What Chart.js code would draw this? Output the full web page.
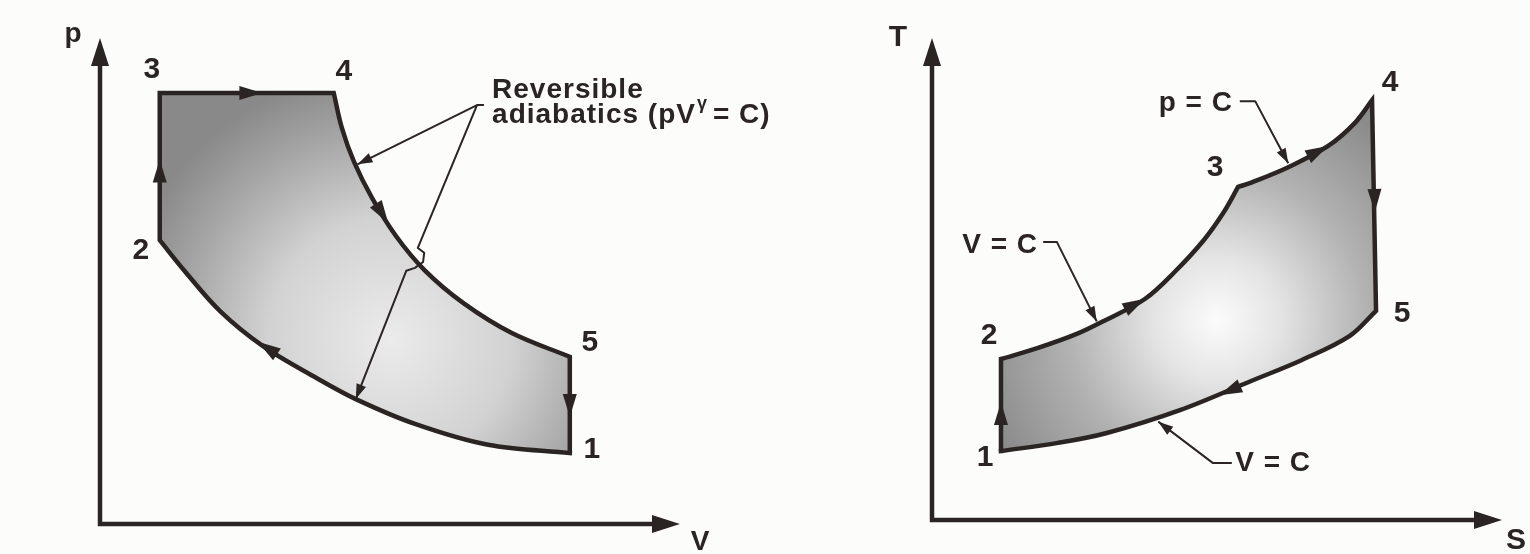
<!DOCTYPE html>
<html>
<head>
<meta charset="utf-8">
<script src="https://cdn.jsdelivr.net/npm/chart.js@4.4.1/dist/chart.umd.min.js"></script>
<style>
  html, body { margin: 0; padding: 0; background: #fcfcfb; }
  .wrap { position: relative; width: 1530px; height: 554px; overflow: hidden; }
  canvas { display: block; position: absolute; top: 0; }
  #pv { left: 0; }
  #ts { left: 765px; }
</style>
</head>
<body>
<div class="wrap">
  <canvas id="pv" width="820" height="554"></canvas>
  <canvas id="ts" width="765" height="554"></canvas>
</div>
<script>
// p-V diagram of the dual cycle, arbitrary units on both axes (0..10)
const pvCompression = [[8.10, 1.46], [6.69, 1.63], [5.43, 2.06], [4.41, 2.57], [3.74, 3.00], [2.81, 3.66], [2.07, 4.38], [1.47, 5.19], [1.03, 5.84]];
const pvHeatV = [[1.03, 5.84], [1.03, 8.87]];
const pvHeatP = [[1.03, 8.87], [4.03, 8.87]];
const pvExpansion = [[4.03, 8.87], [4.17, 8.15], [4.38, 7.45], [4.69, 6.71], [5.10, 5.93], [5.59, 5.23], [6.26, 4.55], [7.10, 3.93], [8.10, 3.44]];
const pvReject = [[8.10, 3.44], [8.10, 1.46]];
// direction arrows: [fromX, fromY, tipX, tipY]
const pvArrows = [[2.40, 8.87, 2.80, 8.87], [1.03, 7.0, 1.03, 7.5], [4.69, 6.71, 4.97, 6.19], [8.10, 2.7, 8.10, 2.2], [3.10, 3.45, 2.72, 3.75]];
const pvLeaders = [
  [[6.62, 8.62], [6.50, 8.62], [4.44, 7.40]],
  [[6.50, 8.62], [5.48, 5.68], [5.59, 5.58], [5.57, 5.39], [5.43, 5.27], [5.28, 5.21], [4.41, 2.57]]
];

// T-s diagram of the same cycle
const tsCompression = [[1.21, 1.43], [1.21, 3.34]];
const tsHeatV = [[1.21, 3.34], [1.86, 3.57], [2.54, 3.86], [3.05, 4.15], [3.74, 4.59], [4.26, 5.15], [4.77, 5.81], [5.12, 6.39], [5.37, 6.91]];
const tsHeatP = [[5.37, 6.91], [5.60, 7.00], [6.25, 7.32], [6.95, 7.76], [7.42, 8.24], [7.72, 8.71]];
const tsExpansion = [[7.72, 8.71], [7.79, 4.34]];
const tsReject = [[7.79, 4.34], [7.33, 3.82], [6.49, 3.32], [5.63, 2.90], [4.35, 2.28], [3.05, 1.80], [2.21, 1.60], [1.21, 1.43]];
const tsArrows = [[1.21, 2.0, 1.21, 2.45], [3.05, 4.15, 3.74, 4.59], [6.25, 7.32, 6.95, 7.76], [7.76, 7.0, 7.77, 6.39], [5.63, 2.90, 5.04, 2.59]];
const tsLeaders = [
  [[5.40, 8.69], [5.67, 8.69], [6.25, 7.40]],
  [[1.95, 5.77], [2.19, 5.77], [2.89, 4.12]],
  [[5.26, 1.18], [4.93, 1.18], [3.97, 2.04]]
];

const stateNames = ['1', '2', '3', '4', '5'];

const ink = '#2a2523';
const font = '"Liberation Sans", Arial, sans-serif';

function shade(fx, fy, r, stops) {
  return (ctx) => {
    const area = ctx.chart.chartArea;
    if (!area) return '#aaaaaa';
    const x = area.left + fx * (area.right - area.left);
    const y = area.top + fy * (area.bottom - area.top);
    const g = ctx.chart.ctx.createRadialGradient(x, y, 0, x, y, r);
    stops.forEach(([o, col]) => g.addColorStop(o, col));
    return g;
  };
}

function head(c, fx, fy, tx, ty, len, half) {
  const a = Math.atan2(ty - fy, tx - fx);
  c.save();
  c.translate(tx, ty);
  c.rotate(a);
  c.beginPath();
  c.moveTo(0, 0);
  c.lineTo(-len, -half);
  c.lineTo(-len, half);
  c.closePath();
  c.fill();
  c.restore();
}

function text(c, str, x, y, size, align, spacing) {
  c.font = 'bold ' + size + 'px ' + font;
  c.letterSpacing = (spacing || 0) + 'px';
  c.textAlign = align || 'center';
  c.fillText(str, x, y);
}

// axes with arrowheads, state numbers, process arrows and leader notes
function decor(cfg) {
  return {
    id: 'decor',
    afterDatasetsDraw(chart) {
      const c = chart.ctx;
      const { left, right, top, bottom } = chart.chartArea;
      const sx = chart.scales.x, sy = chart.scales.y;
      const P = ([x, y]) => [sx.getPixelForValue(x), sy.getPixelForValue(y)];
      c.save();
      c.fillStyle = ink;
      c.strokeStyle = ink;

      // axes
      c.lineWidth = 4.5;
      c.lineCap = 'butt';
      c.beginPath();
      c.moveTo(left, top + 20);
      c.lineTo(left, bottom);
      c.lineTo(right - 20, bottom);
      c.stroke();
      head(c, left, bottom, left, top, 28, 9);
      head(c, left, bottom, right, bottom, 28, 9);

      // arrows on the cycle
      cfg.arrows.forEach(([x0, y0, x1, y1]) => {
        const [a, b] = P([x0, y0]);
        const [d, e] = P([x1, y1]);
        head(c, a, b, d, e, 23, 7);
      });

      // leader lines
      c.lineWidth = 2;
      c.lineJoin = 'round';
      cfg.leaders.forEach((pts) => {
        const px = pts.map(P);
        c.beginPath();
        px.forEach(([x, y], i) => (i ? c.lineTo(x, y) : c.moveTo(x, y)));
        c.stroke();
        const n = px.length;
        head(c, px[n - 2][0], px[n - 2][1], px[n - 1][0], px[n - 1][1], 15, 5);
      });

      // state numbers
      c.textBaseline = 'middle';
      cfg.states.forEach((pt, i) => {
        const [x, y] = P(pt);
        const [ox, oy] = cfg.stateOffsets[i];
        text(c, stateNames[i], x + ox, y + oy, 30);
      });

      // axis letters
      text(c, cfg.yLabel, left + cfg.yLabelPos[0], top + cfg.yLabelPos[1], cfg.labelSize);
      text(c, cfg.xLabel, right + cfg.xLabelPos[0], bottom + cfg.xLabelPos[1], cfg.labelSize);

      // notes
      c.textBaseline = 'alphabetic';
      cfg.notes(c, P);
      c.restore();
    }
  };
}

function cycleChart(id, segments, fill, pad, cfg) {
  const loop = [].concat(...segments).map(([x, y]) => ({ x, y }));
  return new Chart(document.getElementById(id), {
    type: 'scatter',
    data: {
      datasets: [{
        data: loop,
        showLine: true,
        fill: 'shape',
        backgroundColor: fill,
        borderColor: ink,
        borderWidth: 4.5,
        borderJoinStyle: 'miter',
        borderCapStyle: 'square',
        tension: 0.35,
        pointRadius: 0
      }]
    },
    options: {
      responsive: false,
      animation: false,
      events: [],
      layout: { padding: pad },
      scales: {
        x: { type: 'linear', min: 0, max: 10, display: false },
        y: { type: 'linear', min: 0, max: 10, display: false }
      },
      plugins: { legend: { display: false }, tooltip: { enabled: false } }
    },
    plugins: [decor(cfg)]
  });
}

cycleChart('pv', [pvCompression, pvHeatV, pvHeatP, pvExpansion, pvReject],
  shade(0.5, 0.62, 270, [[0, '#ecebeb'], [0.45, '#d3d2d2'], [0.8, '#a3a2a2'], [1, '#8a8989']]),
  { left: 100, right: 140, top: 38, bottom: 30 },
  {
    arrows: pvArrows,
    leaders: pvLeaders,
    states: [pvCompression[0], pvHeatV[0], pvHeatP[0], pvExpansion[0], pvReject[0]],
    stateOffsets: [[22, -3], [-19, 11], [-8, -23], [10, -21], [20, -14]],
    yLabel: 'p', yLabelPos: [-27, -4],
    xLabel: 'V', xLabelPos: [20, 18],
    labelSize: 28,
    notes(c, P) {
      const [x1, y1] = P([6.76, 8.77]);
      text(c, 'Reversible', x1, y1, 28, 'left', 1);
      const [x2, y2] = P([6.76, 8.25]);
      text(c, 'adiabatics (pV', x2, y2, 28, 'left', 1);
      const w = c.measureText('adiabatics (pV').width;
      text(c, 'γ', x2 + w + 1, y2 - 14, 18, 'left', 0);
      text(c, '= C)', x2 + w + 17, y2, 28, 'left', 1);
    }
  });

cycleChart('ts', [tsCompression, tsHeatV, tsHeatP, tsExpansion, tsReject],
  shade(0.5, 0.585, 250, [[0, '#fbfbfb'], [0.25, '#e4e4e4'], [0.6, '#b2b2b2'], [1, '#8a8a8a']]),
  { left: 167, right: 28, top: 38, bottom: 34 },
  {
    arrows: tsArrows,
    leaders: tsLeaders,
    states: [tsCompression[0], tsHeatV[0], tsHeatP[0], tsExpansion[0], tsReject[0]],
    stateOffsets: [[-16, 7], [-12, -23], [-23, -19], [18, -17], [26, 3]],
    yLabel: 'T', yLabelPos: [-34, 0],
    xLabel: 'S', xLabelPos: [14, 21],
    labelSize: 30,
    notes(c, P) {
      let [x, y] = P([5.28, 8.49]);
      text(c, 'p = C', x, y, 28, 'right', 1);
      [x, y] = P([1.86, 5.54]);
      text(c, 'V = C', x, y, 28, 'right', 1);
      [x, y] = P([5.32, 1.02]);
      text(c, 'V = C', x, y, 28, 'left', 1);
    }
  });
</script>
</body>
</html>
